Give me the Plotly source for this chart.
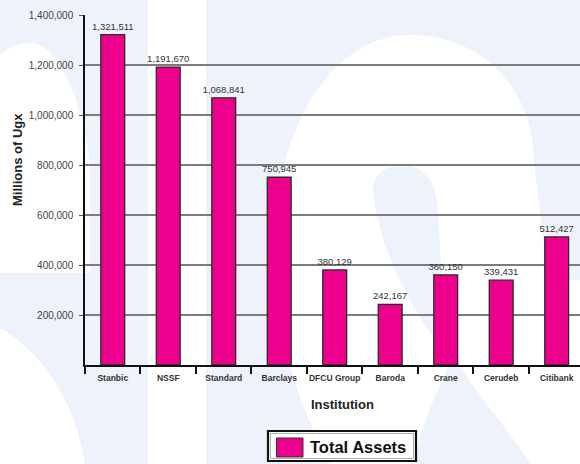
import plotly.graph_objects as go

# ---------------- data ----------------
institutions = ["Stanbic", "NSSF", "Standard", "Barclays", "DFCU Group",
                "Baroda", "Crane", "Cerudeb", "Citibank"]
total_assets = [1321511, 1191670, 1068841, 750945, 380129,
                242167, 360150, 339431, 512427]
y_tick_values = [200000, 400000, 600000, 800000, 1000000, 1200000, 1400000]
y_tick_labels = [f"{v:,}" for v in y_tick_values]
series_name = "Total Assets"
x_title = "Institution"
y_title = "Millions of Ugx"

# ---------------- geometry helpers ----------------
W, H = 580, 464
ML, MR, MT, MB = 85, 0, 15, 99
PW, PH = W - ML - MR, H - MT - MB

def px(x):
    return (x - ML) / PW

def py(y):
    return (H - MB - y) / PH

def path(cmds):
    out = []
    for c in cmds:
        op, pts = c[0], c[1:]
        s = op
        for i in range(0, len(pts), 2):
            s += f" {px(pts[i]):.5f},{py(pts[i+1]):.5f}"
        out.append(s)
    return " ".join(out) + " Z"

LAV = "#EEF2FA"
WHITE = "#FFFFFF"
PINK = "#EC008C"

shapes = []
def bg(p, color):
    shapes.append(dict(type="path", xref="paper", yref="paper", path=p,
                       fillcolor=color, line=dict(width=0), layer="below"))

# watermark approximation
bg(path([("M", 148, 0), ("L", 206, 0), ("L", 206, 464), ("L", 148, 464)]), WHITE)
bg(path([("M", 0, 56), ("C", 8, 46, 20, 43, 33, 43), ("C", 62, 48, 85, 110, 90, 167),
         ("L", 90, 273), ("L", 0, 273)]), WHITE)
bg(path([("M", 0, 328), ("C", 40, 350, 75, 400, 85, 464), ("L", 0, 464)]), WHITE)
bg(path([("M", 330, 464), ("C", 285, 380, 268, 290, 275, 220),
         ("C", 285, 110, 340, 35, 410, 35), ("C", 480, 35, 525, 85, 532, 140),
         ("C", 538, 200, 545, 250, 548, 280), ("L", 580, 280), ("L", 580, 464)]), WHITE)
bg(path([("M", 373, 190), ("C", 372, 160, 430, 150, 437, 200),
         ("C", 442, 250, 438, 320, 462, 368), ("C", 480, 400, 510, 430, 530, 464),
         ("L", 415, 464), ("C", 420, 420, 440, 390, 450, 362),
         ("C", 420, 320, 380, 260, 373, 190)]), LAV)

# legend (drawn manually to match the large swatch)
shapes.append(dict(type="rect", xref="paper", yref="paper",
                   x0=px(268), x1=px(416), y0=py(461), y1=py(431),
                   fillcolor=WHITE, line=dict(color="#111111", width=2.2), layer="above"))
shapes.append(dict(type="rect", xref="paper", yref="paper",
                   x0=px(270.5), x1=px(413.5), y0=py(458.5), y1=py(433.5),
                   fillcolor="rgba(0,0,0,0)", line=dict(color="#9a9a9a", width=0.8),
                   layer="above"))
shapes.append(dict(type="rect", xref="paper", yref="paper",
                   x0=px(276.5), x1=px(303), y0=py(457), y1=py(438),
                   fillcolor=PINK, line=dict(color="#333333", width=1), layer="above"))

FONT = "Arial, 'Liberation Sans', sans-serif"

fig = go.Figure()
fig.add_trace(go.Bar(
    x=institutions, y=total_assets, width=0.43, name=series_name,
    marker=dict(color=PINK, line=dict(color="#2b2b2b", width=1.3)),
    text=[f"{v:,}" for v in total_assets], textposition="outside",
    textfont=dict(size=9.5, color="#333333", family=FONT),
    cliponaxis=False, constraintext="none", showlegend=False,
    hoverinfo="skip",
))

annotations = [
    dict(text=f"<b>{series_name}</b>", xref="paper", yref="paper",
         x=px(308), y=py(447), xanchor="left", yanchor="middle", showarrow=False,
         font=dict(size=16.5, color="#111111", family=FONT)),
    dict(text=f"<b>{x_title}</b>", xref="paper", yref="paper",
         x=px(342), y=py(404), xanchor="center", yanchor="middle", showarrow=False,
         font=dict(size=13, color="#222222", family=FONT)),
    dict(text=f"<b>{y_title}</b>", xref="paper", yref="paper", textangle=-90,
         x=px(17), y=py(160), xanchor="center", yanchor="middle", showarrow=False,
         font=dict(size=13, color="#222222", family=FONT)),
]

fig.update_layout(
    width=W, height=H, autosize=False,
    margin=dict(l=ML, r=MR, t=MT, b=MB, pad=0, autoexpand=False),
    paper_bgcolor=LAV, plot_bgcolor="rgba(0,0,0,0)",
    font=dict(family=FONT, color="#333333"),
    shapes=shapes, annotations=annotations, showlegend=False,
    xaxis=dict(type="category", range=[-0.5, 8.42], showgrid=False,
               showline=True, linecolor="#111111", linewidth=1.5,
               ticks="outside", tickson="boundaries", ticklen=7,
               tickcolor="#111111", tickwidth=1.5, tickangle=0, automargin=False,
               ticklabelstandoff=4,
               tickfont=dict(size=8.5, color="#333333", family=FONT, weight="bold"),
               fixedrange=True),
    yaxis=dict(range=[0, 1400000], tickmode="array", tickvals=y_tick_values,
               ticktext=y_tick_labels, showgrid=True, gridcolor="#7c7c7c",
               gridwidth=1.6, zeroline=False, showline=True, automargin=False,
               linecolor="#111111", linewidth=1.5, ticks="outside", ticklen=4,
               tickcolor="#555555", tickwidth=1.3,
               tickfont=dict(size=10, color="#444444", family=FONT),
               ticklabelstandoff=4, fixedrange=True),
)

fig.write_html(
    "out.html",
    config={"displayModeBar": False},
    post_script="document.body.style.margin='0';document.body.style.overflow='hidden';",
)
